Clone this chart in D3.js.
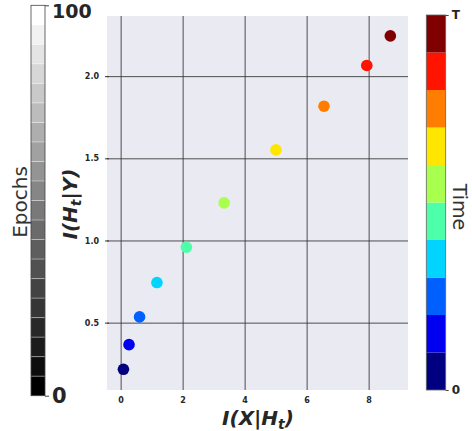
<!DOCTYPE html>
<html><head><meta charset="utf-8">
<script src="https://cdn.jsdelivr.net/npm/d3@7"></script>
<style>body{margin:0;background:#fff;} svg{display:block;}</style>
</head><body>
<svg id="chart" width="472" height="431"></svg>
<script>
const xValues = [0.09, 0.27, 0.61, 1.17, 2.12, 3.34, 5.01, 6.56, 7.94, 8.70];
const yValues = [0.216, 0.366, 0.535, 0.744, 0.959, 1.229, 1.551, 1.817, 2.065, 2.245];
const pointColors = ["#000080","#0000f1","#0060ff","#00d4ff","#4dffa9","#a9ff4d","#ffe600","#ff7d00","#ff1400","#800000"];
const xTicks = [0, 2, 4, 6, 8];
const yTicks = [0.5, 1.0, 1.5, 2.0];
const epochLevels = d3.range(20);
const epochTicks = [0, 100];
const timeTickLabels = ["0", "T"];

const svg = d3.select("#chart");
const font = "DejaVu Sans, sans-serif";
const plot = {l:107, r:408, t:16, b:390};
const x = d3.scaleLinear().domain([-0.44, 9.27]).range([plot.l, plot.r]);
const y = d3.scaleLinear().domain([0.09, 2.366]).range([plot.b, plot.t]);

svg.append("rect").attr("x", plot.l).attr("y", plot.t)
  .attr("width", plot.r - plot.l).attr("height", plot.b - plot.t).attr("fill", "#eaeaf2");

// grid
const xAxis = d3.axisBottom(x).tickValues(xTicks).tickSize(-(plot.b - plot.t)).tickFormat(d3.format("d")).tickPadding(6);
const gx = svg.append("g").attr("transform", `translate(0,${plot.b})`).call(xAxis);
const yAxis = d3.axisLeft(y).tickValues(yTicks).tickSize(-(plot.r - plot.l)).tickFormat(d3.format(".1f")).tickPadding(8);
const gy = svg.append("g").attr("transform", `translate(${plot.l},0)`).call(yAxis);
[gx, gy].forEach(g => {
  g.select(".domain").remove();
  g.selectAll(".tick line").attr("stroke", "#333").attr("stroke-width", 1).attr("opacity", 0.85);
  g.selectAll(".tick text").attr("fill", "#262626").attr("font-family", font)
    .attr("font-size", 8).attr("font-weight", "bold");
});
gy.selectAll(".tick").append("line").attr("x1", -2).attr("x2", 2).attr("stroke", "#333");
gx.selectAll(".tick text").attr("dy", "0.9em");

// points
svg.append("g").selectAll("circle").data(xValues).join("circle")
  .attr("cx", (d) => x(d)).attr("cy", (d, i) => y(yValues[i]))
  .attr("r", 5.8).attr("fill", (d, i) => pointColors[i]);

// axis labels
svg.append("text").attr("x", 258).attr("y", 425).attr("text-anchor", "middle")
  .attr("font-family", font).attr("font-size", 20).attr("font-weight", "bold").attr("font-style", "italic")
  .attr("fill", "#262626")
  .html('I(X|H<tspan font-size="14" dy="4">t</tspan><tspan dy="-4">)</tspan>');
svg.append("text").attr("transform", "translate(77,204) rotate(-90)").attr("text-anchor", "middle")
  .attr("font-family", font).attr("font-size", 20).attr("font-weight", "bold").attr("font-style", "italic")
  .attr("fill", "#262626")
  .html('I(H<tspan font-size="14" dy="4">t</tspan><tspan dy="-4">|Y)</tspan>');

// Epoch colorbar (left)
const ey = d3.scaleLinear().domain([0, 100]).range([395.7, 5.3]);
const step = 100 / epochLevels.length;
const eb = svg.append("g");
eb.selectAll("rect").data(epochLevels).join("rect")
  .attr("x", 31).attr("width", 14)
  .attr("y", d => ey((d + 1) * step)).attr("height", d => ey(d * step) - ey((d + 1) * step))
  .attr("fill", d => { const v = Math.round(255 * d / (epochLevels.length - 1)); return d3.rgb(v, v, v); });
eb.selectAll("line.sep").data(epochLevels.slice(1)).join("line").attr("class", "sep")
  .attr("x1", 31).attr("x2", 45).attr("y1", d => ey(d * step)).attr("y2", d => ey(d * step))
  .attr("stroke", "#fff").attr("stroke-opacity", 0.4).attr("stroke-width", 1);
eb.append("rect").attr("x", 31).attr("y", ey(100)).attr("width", 14).attr("height", ey(0) - ey(100))
  .attr("fill", "none").attr("stroke", "#444").attr("stroke-width", 0.8);
const ea = d3.axisRight(ey).tickValues(epochTicks).tickSize(4).tickPadding(3).tickFormat(d3.format("d"));
const gE = svg.append("g").attr("transform", "translate(45,0)").call(ea);
gE.select(".domain").remove();
gE.selectAll(".tick line").attr("stroke", "#444");
gE.selectAll(".tick text").attr("font-family", font).attr("font-size", 21).attr("font-weight", "bold").attr("fill", "#262626");
gE.selectAll(".tick").filter(d => d === 100).select("text").attr("font-size", 19).attr("dy", "0.65em");
svg.append("text").attr("transform", "translate(27,202) rotate(-90)").attr("text-anchor", "middle")
  .attr("font-family", font).attr("font-size", 20).attr("fill", "#333").text("Epochs");

// Time colorbar (right)
const ty = d3.scaleLinear().domain([0, pointColors.length]).range([390, 15]);
const tb = svg.append("g");
tb.selectAll("rect").data(pointColors).join("rect")
  .attr("x", 426.3).attr("width", 19.4)
  .attr("y", (d, i) => ty(i + 1)).attr("height", (d, i) => ty(i) - ty(i + 1))
  .attr("fill", d => d);
tb.append("rect").attr("x", 426.3).attr("y", ty(pointColors.length)).attr("width", 19.4)
  .attr("height", ty(0) - ty(pointColors.length)).attr("fill", "none").attr("stroke", "#666").attr("stroke-width", 0.8);
const ta = d3.axisRight(ty).tickValues([0, pointColors.length]).tickSize(3).tickPadding(3)
  .tickFormat((d, i) => timeTickLabels[i]);
const gT = svg.append("g").attr("transform", "translate(445.7,0)").call(ta);
gT.select(".domain").remove();
gT.selectAll(".tick line").attr("stroke", "#444");
gT.selectAll(".tick text").attr("font-family", font).attr("font-size", 12).attr("font-weight", "bold").attr("fill", "#262626");
svg.append("text").attr("transform", "translate(453,207) rotate(90)").attr("text-anchor", "middle")
  .attr("font-family", font).attr("font-size", 19).attr("fill", "#333").text("Time");
</script>
</body></html>
